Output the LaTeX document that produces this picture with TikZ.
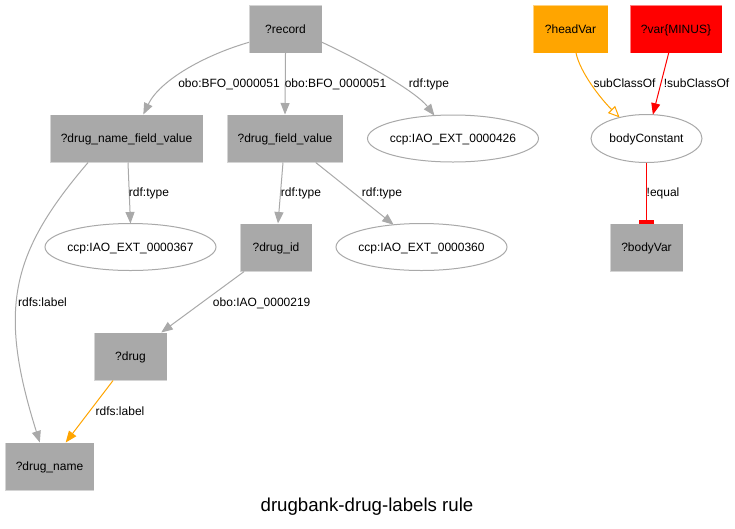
\documentclass[tikz,border=0pt]{standalone}
\usepackage{fontspec}
\setmainfont{Liberation Sans}
\usetikzlibrary{arrows.meta,shapes.geometric,calc}
\definecolor{gv}{HTML}{A9A9A9}
\definecolor{gvorange}{HTML}{FFA500}
\definecolor{gvred}{HTML}{FF0000}
\begin{document}
\begin{tikzpicture}[x=1pt,y=-1pt,
  font=\fontsize{12pt}{14pt}\selectfont,
  every node/.style={inner sep=0pt, outer sep=0pt, text height=9pt, text depth=1pt},
  box/.style={rectangle, fill=#1, draw=white, draw opacity=0.5, line width=1pt, minimum height=48pt},
  box/.default=gv,
  oval/.style={ellipse, draw=gv, fill=white, line width=1pt, minimum height=47pt, minimum width=171pt},
  lbl/.style={anchor=base},
  gedge/.style={draw=gv, line width=1pt, -{Triangle[length=11.5pt,width=9pt]}},
  oedge/.style={draw=gvorange, line width=1pt, -{Triangle[length=11.5pt,width=9pt]}},
  oopen/.style={draw=gvorange, line width=1pt, -{Triangle[open,length=11.5pt,width=10pt]}},
  redge/.style={draw=gvred, line width=1pt, -{Triangle[length=11.5pt,width=9pt]}},
  rtee/.style={draw=gvred, line width=1pt, -{Rectangle[length=4pt,width=15pt]}}
]
\fill[white] (0,0) rectangle (735,528);
\useasboundingbox (0,0) rectangle (735,528);

% nodes
\node[box, minimum width=73pt] (record) at (285.5,29) {?record};
\node[box, minimum width=153pt] (dnfv) at (126.5,138.5) {?drug\_name\_field\_value};
\node[box, minimum width=116pt] (dfv) at (285,138.5) {?drug\_field\_value};
\node[oval] (e426) at (453,138.5) {\makebox[0pt]{ccp:IAO\_EXT\_0000426}};
\node[oval] (e367) at (130.5,247) {\makebox[0pt]{ccp:IAO\_EXT\_0000367}};
\node[box, minimum width=72pt] (drugid) at (276,247.5) {?drug\_id};
\node[oval] (e360) at (421.5,247) {\makebox[0pt]{ccp:IAO\_EXT\_0000360}};
\node[box, minimum width=73pt] (drug) at (130.5,356.5) {?drug};
\node[box, minimum width=89pt] (drugname) at (49.5,466.5) {?drug\_name};
\node[box=gvorange, minimum width=75pt] (headvar) at (570.5,29) {?headVar};
\node[box=gvred, minimum width=92pt] (minusvar) at (676,29) {?var\{MINUS\}};
\node[oval, minimum width=111pt, minimum height=48pt] (bc) at (646.5,138.5) {\makebox[0pt]{bodyConstant}};
\node[box, minimum width=73pt] (bodyvar) at (646.5,247.5) {?bodyVar};

% edges
\draw[gedge] (record.200) .. controls (205,55) and (160,80) .. (dnfv.55.5);
\draw[gedge] (record.south) -- (dfv.north);
\draw[gedge] (record.340) .. controls (362.5,61) and (416,91.6) .. (e426.129);
\draw[gedge] ($(dnfv.south)+(1.5,0)$) -- (e367.north);
\draw[gedge] (dnfv.212) .. controls (10,253.7) and (-2,309.5) .. (drugname.112);
\draw[gedge] ($(dfv.south)+(-2,0)$) -- ($(drugid.north)+(2,0)$);
\draw[gedge] (dfv.-38.7) -- (e360);
\draw[gedge] (drugid.217.7) -- (drug.38);
\draw[oedge] (drug.234.5) -- (drugname.56);
\draw[oopen] (headvar.-77) .. controls (580,72) and (600,98) .. (bc.142);
\draw[redge] (minusvar.253.7) -- (bc.75);
\draw[rtee] (bc.south) -- (bodyvar.north);

% edge labels
\node[lbl] (l1) at (229,87) {obo:BFO\_0000051};
\node[lbl] (l2) at (335.5,87) {obo:BFO\_0000051};
\node[lbl] (l3) at (429,87) {rdf:type};
\node[lbl] (l4) at (149,196) {rdf:type};
\node[lbl] (l5) at (301,196) {rdf:type};
\node[lbl] (l6) at (382,196) {rdf:type};
\node[lbl] (l7) at (42.5,306) {rdfs:label};
\node[lbl] (l8) at (261.7,306) {obo:IAO\_0000219};
\node[lbl] (l9) at (120,415) {rdfs:label};
\node[lbl] (l10) at (624.5,87) {subClassOf};
\node[lbl] (l11) at (696.5,87) {!subClassOf};
\node[lbl] (l12) at (663,196) {!equal};

% title
\node[lbl, font=\fontsize{18.67pt}{22pt}\selectfont] (title) at (367,511) {drugbank-drug-labels rule};
\end{tikzpicture}
\end{document}
